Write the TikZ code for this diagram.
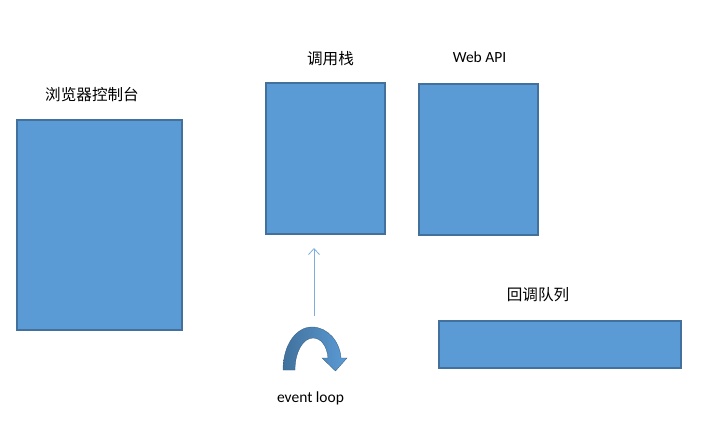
\documentclass[tikz,border=0pt]{standalone}
\usepackage{fontspec}
\setmainfont{Carlito}
\newfontfamily\cjk{Noto Sans CJK SC}
\definecolor{boxfill}{HTML}{5B9BD5}
\definecolor{boxline}{HTML}{41719C}
\definecolor{thinarrow}{HTML}{7FAEDD}
\usetikzlibrary{arrows.meta}
\begin{document}
\begin{tikzpicture}[x=1pt,y=-1pt,
  panel/.style={fill=boxfill,draw=boxline,line width=1.4pt},
  cjklabel/.style={font=\cjk\fontsize{15.6}{17}\selectfont,inner sep=0pt},
  latlabel/.style={font=\fontsize{15.5}{17}\selectfont,inner sep=0pt}]
\useasboundingbox (0,0) rectangle (715,431);
\fill[white] (0,0) rectangle (715,431);
% boxes
\node[panel,minimum width=165pt,minimum height=210pt,inner sep=0pt] (console) at (99.5,225) {};
\node[panel,minimum width=119pt,minimum height=151pt,inner sep=0pt] (stack) at (325.5,158.5) {};
\node[panel,minimum width=119pt,minimum height=151pt,inner sep=0pt] (webapi) at (478.5,159.5) {};
\node[panel,minimum width=242pt,minimum height=47pt,inner sep=0pt] (queue) at (560,344.5) {};
% labels
\node[cjklabel] (lconsole) at (92,95) {浏览器控制台};
\node[cjklabel] (lstack) at (330.5,58.5) {调用栈};
\node[latlabel] (lweb) at (479.5,57.5) {Web API};
\node[cjklabel] (lqueue) at (538,295) {回调队列};
\node[latlabel] (lloop) at (310.5,398) {event loop};
% thin arrow
\coordinate (arrowstart) at (314,316);
\coordinate (arrowend) at (314,248);
\draw[thinarrow,line width=0.8pt,-{Straight Barb[length=6pt,width=11pt]}] (arrowstart) -- (arrowend);
% curved arrow (event loop symbol)
\shade[left color=boxline,right color=boxfill,draw=boxline!80!black,line width=0.3pt]
  (283,370) .. controls (283,345) and (296,327) .. (312,327)
  .. controls (328,327) and (340,342) .. (341,358)
  -- (347,358) -- (335.5,371) -- (322,358) -- (328,358)
  .. controls (327,346) and (321,338) .. (313,338)
  .. controls (303,338) and (295,352) .. (295,370) -- cycle;
\end{tikzpicture}
\end{document}
